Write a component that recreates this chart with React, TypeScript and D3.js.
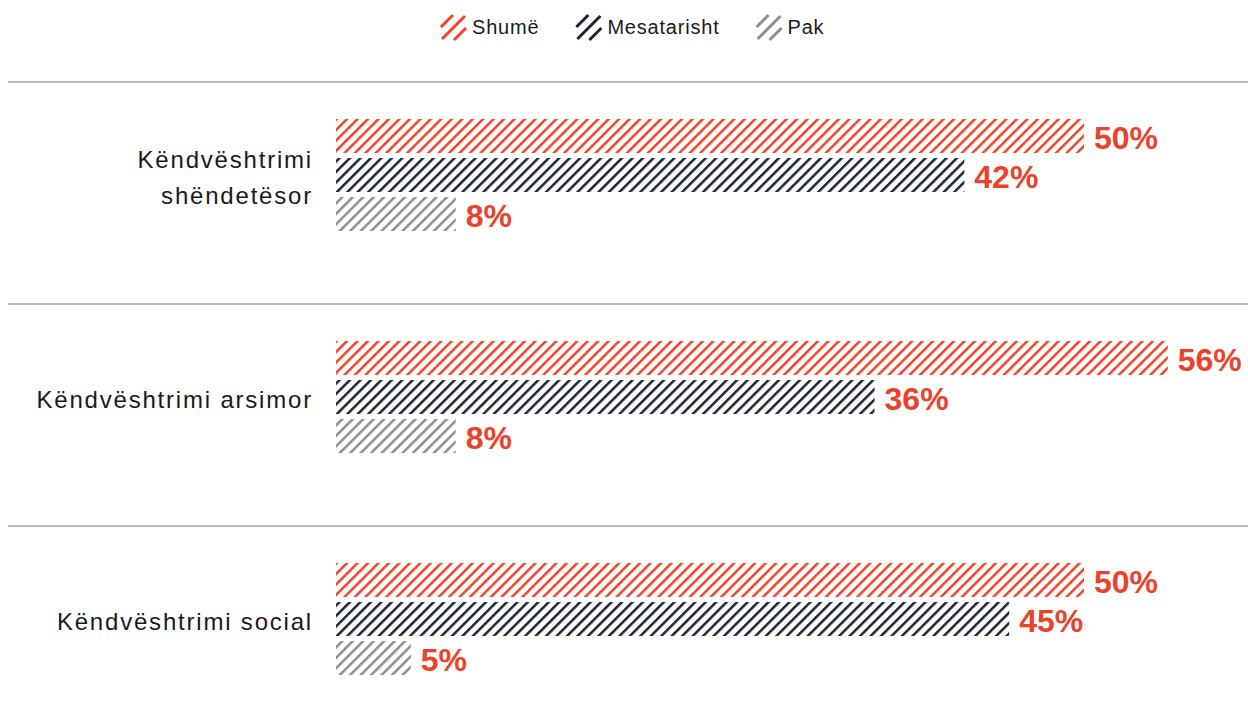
import React, { useEffect, useRef } from "react";
import * as d3 from "d3";

const categories = ["Këndvështrimi shëndetësor", "Këndvështrimi arsimor", "Këndvështrimi social"];
const categoryLines = [["Këndvështrimi", "shëndetësor"], ["Këndvështrimi arsimor"], ["Këndvështrimi social"]];
const series = ["Shumë", "Mesatarisht", "Pak"];
const colors = ["#f0412a", "#1e2530", "#8e8e8e"];

// values per category, in series order (Shumë, Mesatarisht, Pak)
const shume = [50, 55.6, 50];
const mesatarisht = [42, 36, 45];
const pak = [8, 8, 5];
const labels = [["50%", "42%", "8%"], ["56%", "36%", "8%"], ["50%", "45%", "5%"]];

const App: React.FC = () => {
  const svgRef = useRef<SVGSVGElement | null>(null);

  useEffect(() => {
    const width = 1248;
    const height = 728;
    const svg = d3.select(svgRef.current).attr("width", width).attr("height", height);
    svg.selectAll("*").remove();

    const data = categories.map((c, i) => ({
      cat: c,
      vals: [shume[i], mesatarisht[i], pak[i]],
    }));

    // hatch patterns
    const defs = svg.append("defs");
    series.forEach((s, i) => {
      defs
        .append("pattern")
        .attr("id", `hatch-${i}`)
        .attr("patternUnits", "userSpaceOnUse")
        .attr("width", 7.4)
        .attr("height", 7.4)
        .attr("patternTransform", "rotate(45)")
        .append("line")
        .attr("x1", 1.25)
        .attr("y1", 0)
        .attr("x2", 1.25)
        .attr("y2", 7.4)
        .attr("stroke", colors[i])
        .attr("stroke-width", 2.5);
    });

    const x = d3.scaleLinear().domain([0, 100]).range([336, 336 + 1496]);
    const y0 = d3.scaleBand().domain(categories).range([82, 748]);
    const y1 = d3.scaleBand().domain(series).range([0, 112]).paddingInner(0.13);
    const barOffset = 37;

    // separators
    svg
      .selectAll(".sep")
      .data(categories)
      .join("line")
      .attr("x1", 8)
      .attr("x2", width)
      .attr("y1", (d) => y0(d)!)
      .attr("y2", (d) => y0(d)!)
      .attr("stroke", "#a3a3a3")
      .attr("stroke-width", 1.5);

    const groups = svg
      .selectAll(".grp")
      .data(data)
      .join("g")
      .attr("transform", (d) => `translate(0,${y0(d.cat)! + barOffset})`);

    groups
      .selectAll("rect")
      .data((d) => d.vals.map((v, i) => ({ v, i })))
      .join("rect")
      .attr("x", x(0))
      .attr("y", (d) => y1(series[d.i])!)
      .attr("width", (d) => x(d.v) - x(0))
      .attr("height", y1.bandwidth())
      .attr("fill", (d) => `url(#hatch-${d.i})`);

    groups
      .selectAll(".val")
      .data((d, gi) => d.vals.map((v, i) => ({ v, i, label: labels[gi][i] })))
      .join("text")
      .attr("class", "val")
      .attr("x", (d) => x(d.v) + 10)
      .attr("y", (d) => y1(series[d.i])! + y1.bandwidth() / 2 + 2)
      .attr("dominant-baseline", "central")
      .attr("font-family", "Liberation Sans, Arial, sans-serif")
      .attr("font-weight", "bold")
      .attr("font-size", 32)
      .attr("fill", "#ea432b")
      .text((d) => d.label);

    // category labels
    const lineH = 36;
    groups.each(function (d, gi) {
      const lines = categoryLines[gi];
      const center = 112 / 2 + 2;
      const t = d3
        .select(this)
        .append("text")
        .attr("text-anchor", "end")
        .attr("font-family", "Liberation Sans, Arial, sans-serif")
        .attr("font-size", 24)
        .attr("letter-spacing", 1.8)
        .attr("fill", "#1a1a1a");
      lines.forEach((ln, li) => {
        t.append("tspan")
          .attr("x", 313)
          .attr("y", center + (li - (lines.length - 1) / 2) * lineH)
          .attr("dominant-baseline", "central")
          .text(ln);
      });
    });

    // legend
    const legend = svg.append("g").attr("transform", "translate(440,14)");
    const strokes = [
      [1, 13, 13, 1],
      [2, 25, 25, 2],
      [14, 26, 26, 14],
    ];
    let lx = 0;
    series.forEach((s, i) => {
      const g = legend.append("g").attr("transform", `translate(${lx},0)`);
      strokes.forEach(([ax, ay, bx, by]) => {
        g.append("line")
          .attr("x1", ax)
          .attr("y1", ay)
          .attr("x2", bx)
          .attr("y2", by)
          .attr("stroke", colors[i])
          .attr("stroke-width", 3);
      });
      const txt = g
        .append("text")
        .attr("x", 32)
        .attr("y", 13)
        .attr("dominant-baseline", "central")
        .attr("font-family", "Liberation Sans, Arial, sans-serif")
        .attr("font-size", 20)
        .attr("letter-spacing", 0.8)
        .attr("fill", "#1a1a1a")
        .text(s);
      const w = (txt.node() as SVGTextElement).getComputedTextLength();
      lx += 32 + w + 36;
    });
  }, []);

  return (
    <div style={{ position: "absolute", left: 0, top: 0 }}>
      <svg ref={svgRef} style={{ display: "block" }}></svg>
    </div>
  );
};

export default App;
